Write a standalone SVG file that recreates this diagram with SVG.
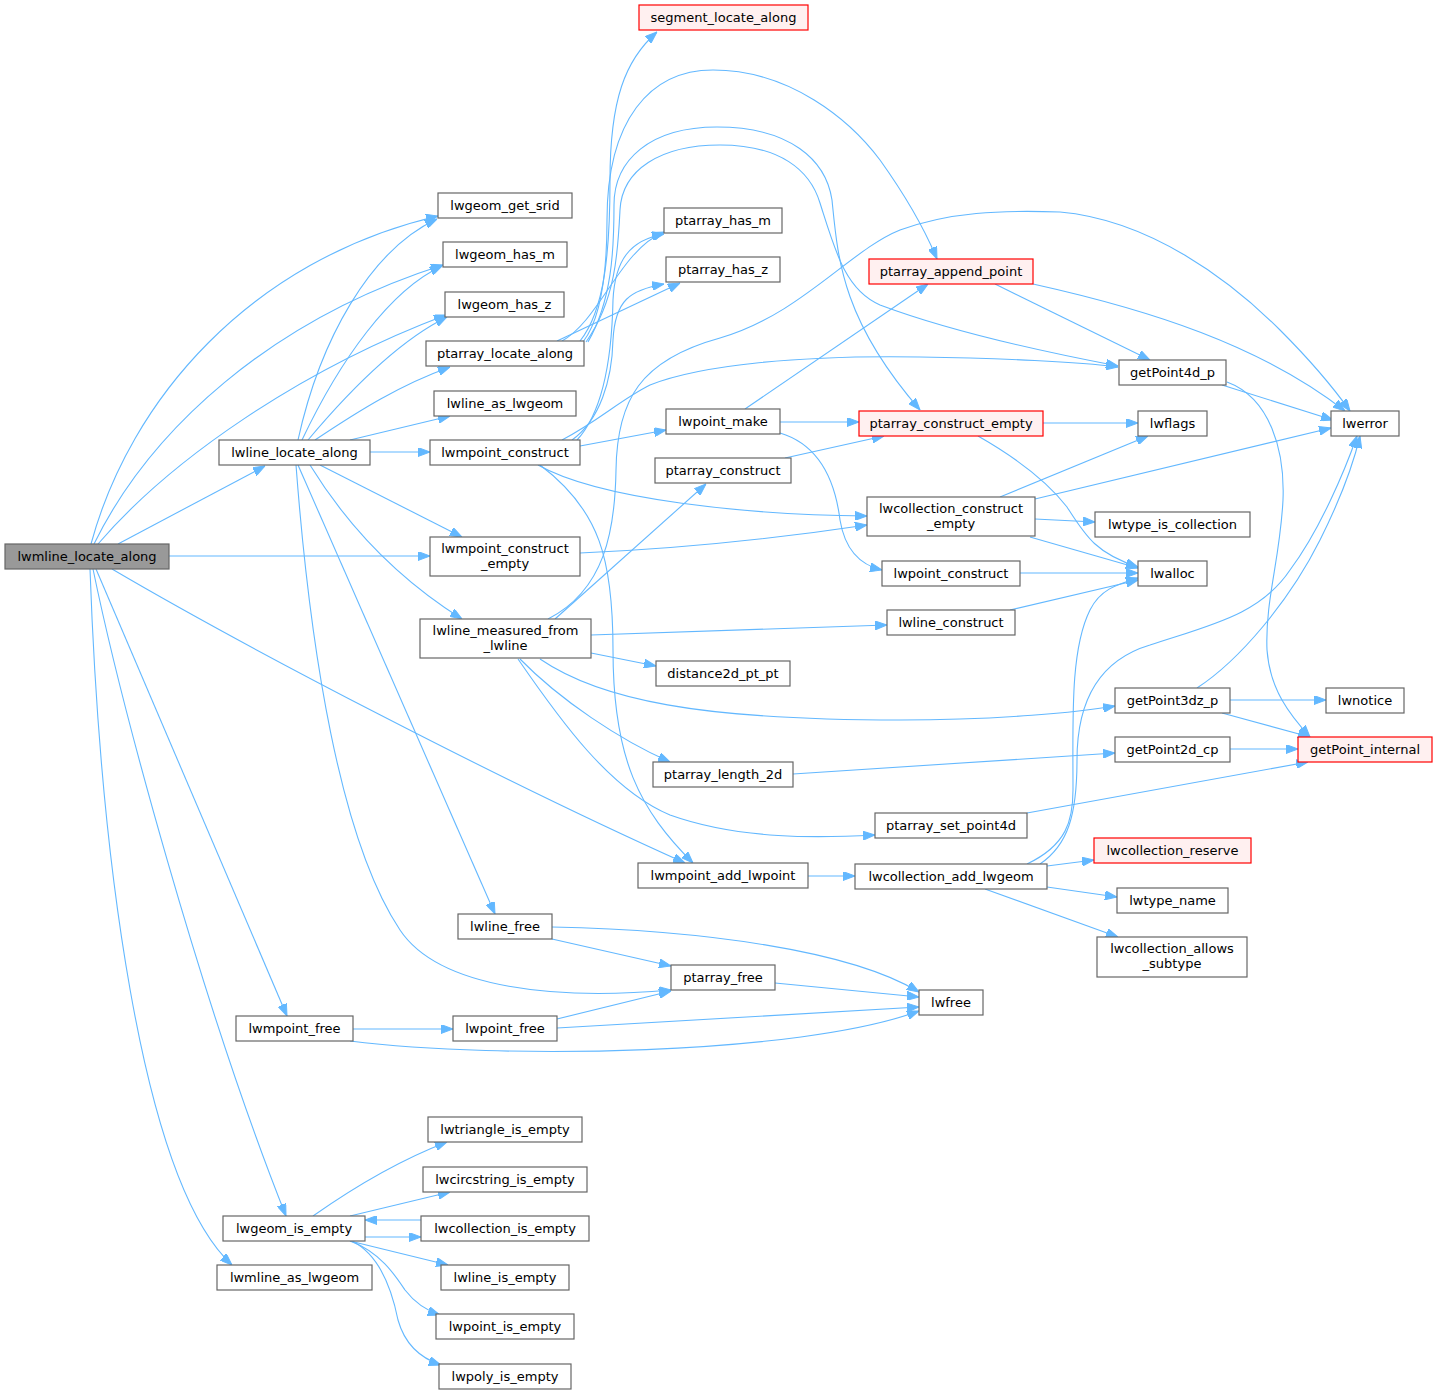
<svg xmlns="http://www.w3.org/2000/svg" width="1437" height="1395" viewBox="0 0 1437 1395">
<defs>
<marker id="ah" viewBox="0 0 12 9" refX="12" refY="4.5" markerWidth="12" markerHeight="9" orient="auto" markerUnits="userSpaceOnUse">
<path d="M0,0 L12,4.5 L0,9 z" fill="#63b8ff" stroke="#63b8ff"/>
</marker>
<style>
.n rect{fill:#ffffff;stroke:#666666;stroke-width:1.2}
.r rect{fill:#fff0f0;stroke:#ff0000;stroke-width:1.2}
.g rect{fill:#999999;stroke:#666666;stroke-width:1.2}
text{font-family:"DejaVu Sans","Liberation Sans",sans-serif;font-size:13px;fill:#000;text-anchor:middle}
#edges path{fill:none;stroke:#63b8ff;stroke-width:1.1;marker-end:url(#ah)}
</style>
</defs>
<rect width="1437" height="1395" fill="#ffffff"/>
<g id="edges">
<path d="M91,544 C130,400 250,260 438,216"/>
<path d="M94,544 C150,430 270,320 443,265"/>
<path d="M98,544 C170,460 300,370 446,315"/>
<path d="M118,544 L265,466"/>
<path d="M169,556 L430,556"/>
<path d="M112,569 C250,650 500,780 685,863"/>
<path d="M96,569 L287,1016"/>
<path d="M93,569 C120,700 200,1000 286,1216"/>
<path d="M90,569 C100,850 140,1180 232,1265"/>
<path d="M298,440 C320,340 370,250 437,219"/>
<path d="M302,440 C340,360 390,290 442,266"/>
<path d="M308,440 C350,390 400,340 447,317"/>
<path d="M315,440 C360,410 400,385 450,367"/>
<path d="M350,440 L450,416"/>
<path d="M370,452 L430,452"/>
<path d="M320,465 L462,537"/>
<path d="M310,465 C350,530 400,580 462,619"/>
<path d="M298,465 L495,914"/>
<path d="M296,465 C310,650 340,840 400,930 C440,990 560,1000 671,990"/>
<path d="M580,341 C605,310 610,250 610,180 C610,100 625,60 657,32"/>
<path d="M583,342 C600,320 607,280 607,220 C607,120 650,70 713,70 C790,70 850,120 880,160 C905,195 925,230 937,259"/>
<path d="M588,342 C612,300 614,250 614,205 C614,160 650,127 717,127 C790,127 826,160 832,200 C838,260 842,320 920,410"/>
<path d="M586,342 C616,300 618,250 620,210 C622,170 660,145 720,145 C780,145 810,170 820,203 C835,250 845,290 880,305 C960,335 1060,355 1118,366"/>
<path d="M562,341 C600,320 620,250 664,232"/>
<path d="M557,341 L680,283"/>
<path d="M572,440 C600,420 612,380 613,340 C615,300 630,290 664,284"/>
<path d="M577,440 C605,410 612,350 613,300 C615,260 630,240 664,234"/>
<path d="M562,440 C600,420 620,400 650,385 C700,365 800,355 920,357 C1000,358 1080,362 1118,367"/>
<path d="M580,446 L666,430"/>
<path d="M538,465 C600,500 750,515 867,516"/>
<path d="M540,465 C600,510 613,560 613,650 C613,760 640,810 693,863"/>
<path d="M548,619 C605,590 615,530 616,470 C617,400 640,360 720,338 C800,315 850,250 900,230 C950,212 1000,210 1060,212 C1150,220 1230,280 1280,330 C1310,360 1335,390 1350,411"/>
<path d="M745,409 L928,284"/>
<path d="M780,422 L859,422"/>
<path d="M780,433 C820,445 835,480 840,520 C845,550 860,565 882,570"/>
<path d="M785,458 L884,436"/>
<path d="M1043,423 L1138,423"/>
<path d="M978,436 C1020,460 1050,485 1067,507 C1085,535 1095,553 1138,567"/>
<path d="M995,284 L1150,360"/>
<path d="M1033,284 C1150,310 1260,345 1345,411"/>
<path d="M1222,385 L1333,420"/>
<path d="M1227,382 C1270,398 1285,450 1283,500 C1280,560 1265,600 1267,650 C1270,690 1290,715 1310,737"/>
<path d="M1000,497 L1148,436"/>
<path d="M1035,499 L1331,428"/>
<path d="M1035,519 L1095,522"/>
<path d="M1030,537 L1138,568"/>
<path d="M1020,573 L1138,573"/>
<path d="M1010,610 L1138,580"/>
<path d="M1027,864 C1067,845 1073,820 1073,790 C1073,720 1070,650 1090,610 C1100,590 1115,585 1138,578"/>
<path d="M1040,864 C1068,845 1077,815 1077,760 C1077,700 1100,660 1150,645 C1210,625 1260,615 1290,570 C1320,530 1345,470 1357,436"/>
<path d="M1197,688 C1240,660 1290,600 1320,540 C1340,500 1352,470 1360,436"/>
<path d="M1230,700 L1326,700"/>
<path d="M1222,713 L1310,737"/>
<path d="M1230,749 L1298,749"/>
<path d="M793,774 L1115,753"/>
<path d="M1027,813 L1308,762"/>
<path d="M555,619 L706,484"/>
<path d="M591,635 L887,625"/>
<path d="M591,653 L656,666"/>
<path d="M540,659 C600,700 700,720 900,720 C1000,720 1080,712 1115,706"/>
<path d="M520,659 C560,700 620,740 670,762"/>
<path d="M518,659 C560,720 610,790 670,815 C740,840 820,838 875,835"/>
<path d="M808,876 L855,876"/>
<path d="M1047,866 L1094,860"/>
<path d="M1047,887 L1117,897"/>
<path d="M985,889 L1118,937"/>
<path d="M580,553 C700,548 800,535 867,525"/>
<path d="M552,939 L671,966"/>
<path d="M552,927 C700,930 850,950 919,992"/>
<path d="M353,1029 L453,1029"/>
<path d="M350,1041 C500,1060 800,1055 919,1011"/>
<path d="M557,1019 L671,991"/>
<path d="M557,1028 L919,1007"/>
<path d="M775,983 L919,997"/>
<path d="M313,1216 C350,1190 400,1160 447,1142"/>
<path d="M350,1216 L450,1192"/>
<path d="M365,1237 L421,1237"/>
<path d="M421,1220 L365,1220"/>
<path d="M350,1241 L448,1265"/>
<path d="M350,1241 C380,1252 395,1275 405,1290 C415,1303 425,1310 440,1315"/>
<path d="M352,1241 C380,1255 392,1290 398,1320 C405,1345 420,1358 441,1365"/>
</g>
<g id="lwmline_locate_along" class="g"><rect x="5" y="544" width="164" height="25"/><text x="87" y="561">lwmline_locate_along</text></g>
<g id="lwgeom_get_srid" class="n"><rect x="438" y="193" width="134" height="25"/><text x="505" y="210">lwgeom_get_srid</text></g>
<g id="lwgeom_has_m" class="n"><rect x="443" y="242" width="124" height="25"/><text x="505" y="259">lwgeom_has_m</text></g>
<g id="lwgeom_has_z" class="n"><rect x="445" y="292" width="119" height="25"/><text x="504.5" y="309">lwgeom_has_z</text></g>
<g id="ptarray_locate_along" class="n"><rect x="426" y="341" width="158" height="25"/><text x="505" y="358">ptarray_locate_along</text></g>
<g id="lwline_as_lwgeom" class="n"><rect x="434" y="391" width="142" height="25"/><text x="505" y="408">lwline_as_lwgeom</text></g>
<g id="lwline_locate_along" class="n"><rect x="219" y="440" width="151" height="25"/><text x="294.5" y="457">lwline_locate_along</text></g>
<g id="lwmpoint_construct" class="n"><rect x="430" y="440" width="150" height="25"/><text x="505" y="457">lwmpoint_construct</text></g>
<g id="lwmpoint_construct_empty" class="n"><rect x="430" y="537" width="150" height="39"/><text x="505" y="553">lwmpoint_construct</text><text x="505" y="568">_empty</text></g>
<g id="lwline_measured_from_lwline" class="n"><rect x="420" y="619" width="171" height="39"/><text x="505.5" y="635">lwline_measured_from</text><text x="505.5" y="650">_lwline</text></g>
<g id="lwline_free" class="n"><rect x="458" y="914" width="94" height="25"/><text x="505" y="931">lwline_free</text></g>
<g id="lwmpoint_free" class="n"><rect x="236" y="1016" width="117" height="25"/><text x="294.5" y="1033">lwmpoint_free</text></g>
<g id="lwpoint_free" class="n"><rect x="453" y="1016" width="104" height="25"/><text x="505" y="1033">lwpoint_free</text></g>
<g id="lwgeom_is_empty" class="n"><rect x="223" y="1216" width="142" height="25"/><text x="294" y="1233">lwgeom_is_empty</text></g>
<g id="lwmline_as_lwgeom" class="n"><rect x="217" y="1265" width="155" height="25"/><text x="294.5" y="1282">lwmline_as_lwgeom</text></g>
<g id="lwtriangle_is_empty" class="n"><rect x="428" y="1117" width="154" height="25"/><text x="505" y="1134">lwtriangle_is_empty</text></g>
<g id="lwcircstring_is_empty" class="n"><rect x="423" y="1167" width="164" height="25"/><text x="505" y="1184">lwcircstring_is_empty</text></g>
<g id="lwcollection_is_empty" class="n"><rect x="421" y="1216" width="168" height="25"/><text x="505" y="1233">lwcollection_is_empty</text></g>
<g id="lwline_is_empty" class="n"><rect x="441" y="1265" width="128" height="25"/><text x="505" y="1282">lwline_is_empty</text></g>
<g id="lwpoint_is_empty" class="n"><rect x="436" y="1314" width="138" height="25"/><text x="505" y="1331">lwpoint_is_empty</text></g>
<g id="lwpoly_is_empty" class="n"><rect x="439" y="1364" width="132" height="25"/><text x="505" y="1381">lwpoly_is_empty</text></g>
<g id="segment_locate_along" class="r"><rect x="639" y="5" width="169" height="25"/><text x="723.5" y="22">segment_locate_along</text></g>
<g id="ptarray_has_m" class="n"><rect x="664" y="208" width="118" height="25"/><text x="723" y="225">ptarray_has_m</text></g>
<g id="ptarray_has_z" class="n"><rect x="666" y="257" width="114" height="25"/><text x="723" y="274">ptarray_has_z</text></g>
<g id="lwpoint_make" class="n"><rect x="666" y="409" width="114" height="25"/><text x="723" y="426">lwpoint_make</text></g>
<g id="ptarray_construct" class="n"><rect x="655" y="458" width="136" height="25"/><text x="723" y="475">ptarray_construct</text></g>
<g id="distance2d_pt_pt" class="n"><rect x="656" y="661" width="134" height="25"/><text x="723" y="678">distance2d_pt_pt</text></g>
<g id="ptarray_length_2d" class="n"><rect x="653" y="762" width="140" height="25"/><text x="723" y="779">ptarray_length_2d</text></g>
<g id="lwmpoint_add_lwpoint" class="n"><rect x="638" y="863" width="170" height="25"/><text x="723" y="880">lwmpoint_add_lwpoint</text></g>
<g id="ptarray_free" class="n"><rect x="671" y="965" width="104" height="25"/><text x="723" y="982">ptarray_free</text></g>
<g id="ptarray_append_point" class="r"><rect x="869" y="259" width="164" height="25"/><text x="951" y="276">ptarray_append_point</text></g>
<g id="ptarray_construct_empty" class="r"><rect x="859" y="411" width="184" height="25"/><text x="951" y="428">ptarray_construct_empty</text></g>
<g id="lwcollection_construct_empty" class="n"><rect x="867" y="497" width="168" height="39"/><text x="951" y="513">lwcollection_construct</text><text x="951" y="528">_empty</text></g>
<g id="lwpoint_construct" class="n"><rect x="882" y="561" width="138" height="25"/><text x="951" y="578">lwpoint_construct</text></g>
<g id="lwline_construct" class="n"><rect x="887" y="610" width="128" height="25"/><text x="951" y="627">lwline_construct</text></g>
<g id="ptarray_set_point4d" class="n"><rect x="875" y="813" width="152" height="25"/><text x="951" y="830">ptarray_set_point4d</text></g>
<g id="lwcollection_add_lwgeom" class="n"><rect x="855" y="864" width="192" height="25"/><text x="951" y="881">lwcollection_add_lwgeom</text></g>
<g id="lwfree" class="n"><rect x="919" y="990" width="64" height="25"/><text x="951" y="1007">lwfree</text></g>
<g id="getPoint4d_p" class="n"><rect x="1119" y="360" width="107" height="25"/><text x="1172.5" y="377">getPoint4d_p</text></g>
<g id="lwflags" class="n"><rect x="1138" y="411" width="69" height="25"/><text x="1172.5" y="428">lwflags</text></g>
<g id="lwtype_is_collection" class="n"><rect x="1095" y="512" width="155" height="25"/><text x="1172.5" y="529">lwtype_is_collection</text></g>
<g id="lwalloc" class="n"><rect x="1138" y="561" width="69" height="25"/><text x="1172.5" y="578">lwalloc</text></g>
<g id="getPoint3dz_p" class="n"><rect x="1115" y="688" width="115" height="25"/><text x="1172.5" y="705">getPoint3dz_p</text></g>
<g id="getPoint2d_cp" class="n"><rect x="1115" y="737" width="115" height="25"/><text x="1172.5" y="754">getPoint2d_cp</text></g>
<g id="lwcollection_reserve" class="r"><rect x="1094" y="838" width="157" height="25"/><text x="1172.5" y="855">lwcollection_reserve</text></g>
<g id="lwtype_name" class="n"><rect x="1117" y="888" width="111" height="25"/><text x="1172.5" y="905">lwtype_name</text></g>
<g id="lwcollection_allows_subtype" class="n"><rect x="1097" y="937" width="150" height="40"/><text x="1172" y="953">lwcollection_allows</text><text x="1172" y="968">_subtype</text></g>
<g id="lwerror" class="n"><rect x="1331" y="411" width="68" height="25"/><text x="1365" y="428">lwerror</text></g>
<g id="lwnotice" class="n"><rect x="1326" y="688" width="78" height="25"/><text x="1365" y="705">lwnotice</text></g>
<g id="getPoint_internal" class="r"><rect x="1298" y="737" width="134" height="25"/><text x="1365" y="754">getPoint_internal</text></g>
</svg>
